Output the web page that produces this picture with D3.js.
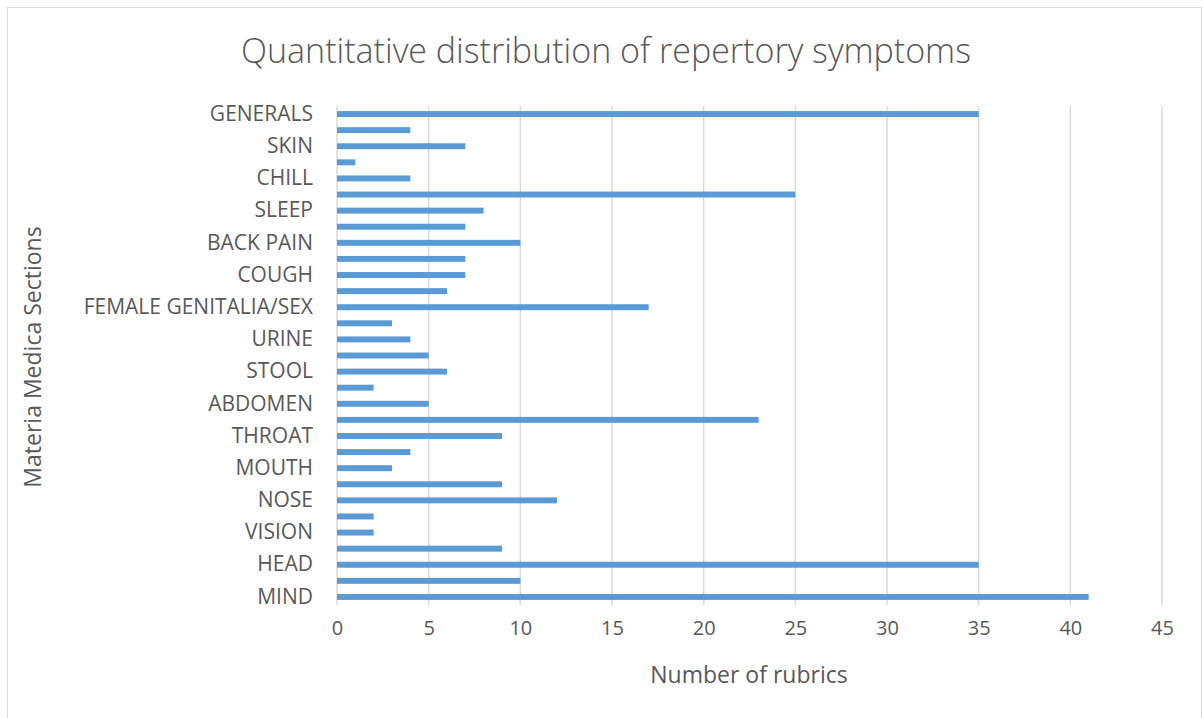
<!DOCTYPE html>
<html lang="en">
<head>
	<meta charset="UTF-8">
	<title>Quantitative distribution of repertory symptoms</title>
	<style>
		body { margin: 0; background: #fff; }
		text { font-family: "Open Sans", sans-serif; fill: #595959; }
	</style>
</head>
<body>
	<script src="https://cdn.jsdelivr.net/npm/d3@7"></script>

	<script type="text/javascript">

		// sections, bottom (MIND) to top (GENERALS)
		var sections = ["MIND", "VERTIGO", "HEAD", "EYE", "VISION", "HEARING", "NOSE", "FACE",
			"MOUTH", "TEETH", "THROAT", "STOMACH", "ABDOMEN", "RECTUM", "STOOL", "BLADDER",
			"URINE", "MALE GENITALIA/SEX", "FEMALE GENITALIA/SEX", "RESPIRATION", "COUGH", "CHEST",
			"BACK PAIN", "EXTREMITIES", "SLEEP", "DREAMS", "CHILL", "FEVER", "SKIN", "PERSPIRATION",
			"GENERALS"];

		// number of rubrics per section
		var rubrics = [41, 10, 35, 9, 2, 2, 12, 9, 3, 4, 9, 23, 5, 2, 6, 5, 4, 3, 17, 6,
			7, 7, 10, 7, 8, 25, 4, 1, 7, 4, 35];

		var xTicks = [0, 5, 10, 15, 20, 25, 30, 35, 40, 45];

		var width = 1203;
		var height = 718;

		var svg = d3.select("body")
					.append("svg")
					.attr("width", width)
					.attr("height", height);

		// chart border (bottom runs off the picture)
		svg.append("rect")
			.attr("x", 7.5)
			.attr("y", 7.5)
			.attr("width", 1194)
			.attr("height", 730)
			.attr("fill", "none")
			.attr("stroke", "#D9D9D9")
			.attr("stroke-width", 1);

		var plot = { left: 337, right: 1162, top: 106, bottom: 605 };

		var x = d3.scaleLinear()
				  .domain([0, 45])
				  .range([plot.left, plot.right]);

		var y = d3.scaleBand()
				  .domain(sections.slice().reverse())
				  .range([plot.top, plot.bottom])
				  .paddingInner(0.63)
				  .paddingOuter(0.315);

		//网格线
		svg.append("g")
			.selectAll("line")
			.data(xTicks)
			.enter()
			.append("line")
			.attr("x1", function(d) { return x(d); })
			.attr("x2", function(d) { return x(d); })
			.attr("y1", plot.top)
			.attr("y2", plot.bottom)
			.attr("stroke", "#D9D9D9")
			.attr("stroke-width", 1.4);

		//柱子
		svg.append("g")
			.selectAll("rect")
			.data(rubrics)
			.enter()
			.append("rect")
			.attr("x", x(0))
			.attr("y", function(d, i) { return y(sections[i]); })
			.attr("width", function(d) { return x(d) - x(0); })
			.attr("height", y.bandwidth())
			.attr("fill", "#5B9BD5");

		// x axis labels
		var xAxis = d3.axisBottom(x)
					  .tickValues(xTicks)
					  .tickSize(0)
					  .tickPadding(0);

		var gx = svg.append("g")
					.attr("transform", "translate(0," + 621 + ")")
					.call(xAxis);
		gx.select(".domain").remove();
		gx.selectAll("text")
			.attr("fill", "#595959")
			.attr("dy", "0.71em")
			.style("font-size", "20px")
			.style("font-family", "Open Sans, sans-serif");

		// y axis labels, every other one like the original
		var yAxis = d3.axisLeft(y)
					  .tickValues(sections.filter(function(d, i) { return i % 2 === 0; }))
					  .tickSize(0)
					  .tickPadding(24);

		var gy = svg.append("g")
					.attr("transform", "translate(" + plot.left + ",0)")
					.call(yAxis);
		gy.select(".domain").remove();
		gy.selectAll("text")
			.attr("fill", "#595959")
			.style("font-size", "21px")
			.style("font-family", "Open Sans, sans-serif");

		//标题
		svg.append("text")
			.attr("x", 606)
			.attr("y", 63)
			.attr("text-anchor", "middle")
			.style("font-size", "34px")
			.style("font-weight", 300)
			.text("Quantitative distribution of repertory symptoms");

		svg.append("text")
			.attr("x", 749)
			.attr("y", 683)
			.attr("text-anchor", "middle")
			.style("font-size", "23px")
			.text("Number of rubrics");

		svg.append("text")
			.attr("transform", "translate(41,357) rotate(-90)")
			.attr("text-anchor", "middle")
			.style("font-size", "23px")
			.text("Materia Medica Sections");

	</script>
</body>
</html>
